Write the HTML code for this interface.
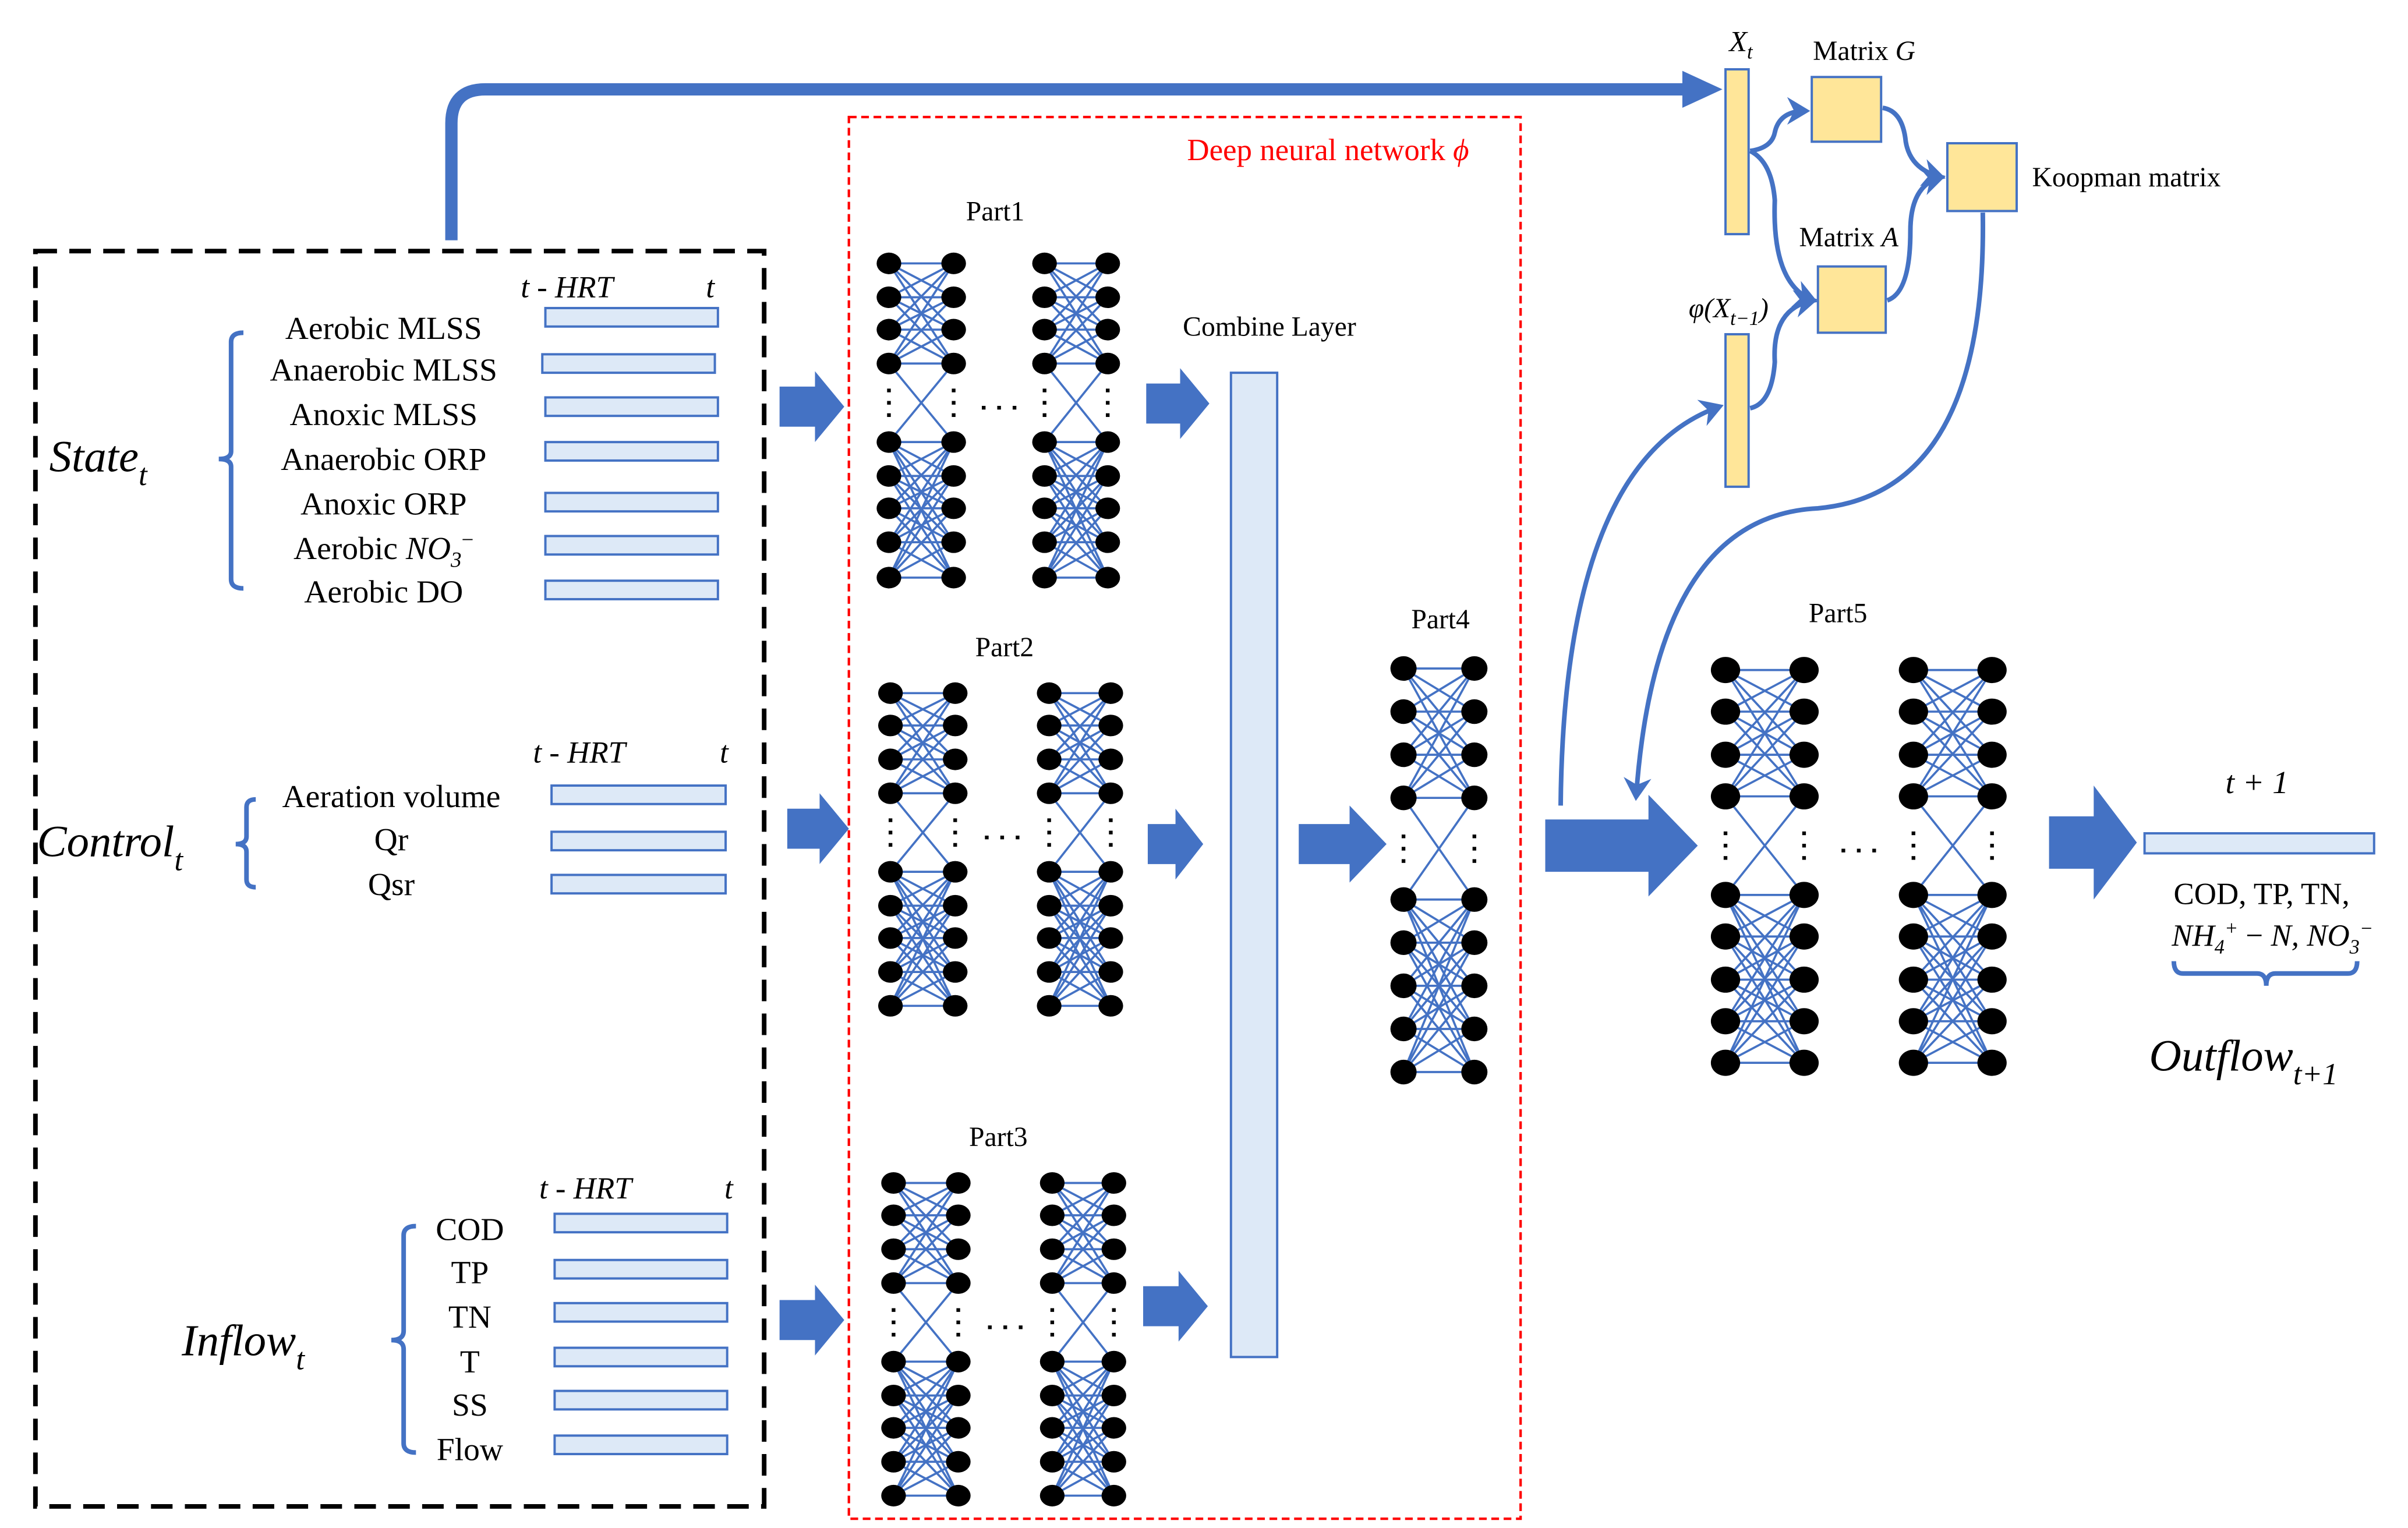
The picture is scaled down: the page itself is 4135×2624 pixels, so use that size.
<!DOCTYPE html>
<html><head><meta charset="utf-8"><style>
html,body{margin:0;padding:0;background:#fff;}
svg{display:block;}
text{font-family:"Liberation Serif",serif;fill:#000;}
.it{font-style:italic;}
</style></head><body>
<svg id="s" xmlns="http://www.w3.org/2000/svg" width="4135" height="2624" viewBox="0 0 1563 992" preserveAspectRatio="none">
<defs>
<marker id="ah" markerWidth="6" markerHeight="6" refX="4" refY="3" orient="auto" markerUnits="strokeWidth">
<path d="M0,0 L5,3 L0,6 L1.5,3 z" fill="#4472c4"/></marker>
</defs>
<rect width="1563" height="992" fill="#fff"/>
<!-- boxes -->
<rect x="23" y="163" width="473" height="815" fill="none" stroke="#000" stroke-width="3" stroke-dasharray="14,8"/>
<rect x="551" y="76" width="436" height="910" fill="none" stroke="#ff0000" stroke-width="1.6" stroke-dasharray="5,3"/>
<text x="862" y="104" font-size="20" fill="#ff0000" text-anchor="middle" style="fill:#ff0000">Deep neural network <tspan class="it">ϕ</tspan></text>
<!-- top arrow -->
<path d="M293,156 L293,80 Q293,58 315,58 L1095,58" fill="none" stroke="#4472c4" stroke-width="8"/>
<path d="M1092,46 L1118,58 L1092,70 z" fill="#4472c4"/>
<g id="bars" fill="#dde9f7" stroke="#4472c4" stroke-width="1.5"></g>
<g id="nets"></g>
<g id="arr" fill="#4472c4"></g>
<!-- combine layer -->
<rect x="799" y="242" width="30" height="639" fill="#dde9f7" stroke="#4472c4" stroke-width="1.5"/>
<text x="824" y="218" font-size="18" text-anchor="middle">Combine Layer</text>
<text x="646" y="143" font-size="18" text-anchor="middle">Part1</text>
<text x="652" y="426" font-size="18" text-anchor="middle">Part2</text>
<text x="648" y="744" font-size="18" text-anchor="middle">Part3</text>
<text x="935" y="408" font-size="18" text-anchor="middle">Part4</text>
<text x="1193" y="404" font-size="18" text-anchor="middle">Part5</text>
<!-- State -->
<text x="32" y="306" font-size="29" class="it">State<tspan font-size="20" dy="9">t</tspan></text>
<path d="M158,216 Q150,216 150,222 L150,293 Q150,298 142,298 Q150,298 150,303 L150,376 Q150,382 158,382" fill="none" stroke="#4472c4" stroke-width="3"/>
<g font-size="21" text-anchor="middle">
<text x="249" y="220">Aerobic MLSS</text>
<text x="249" y="247">Anaerobic MLSS</text>
<text x="249" y="276">Anoxic MLSS</text>
<text x="249" y="305">Anaerobic ORP</text>
<text x="249" y="334">Anoxic ORP</text>
<text x="249" y="363">Aerobic <tspan class="it">NO</tspan><tspan font-size="14" dy="5" class="it">3</tspan><tspan font-size="14" dy="-13">−</tspan></text>
<text x="249" y="391">Aerobic DO</text>
</g>
<text x="368" y="193" font-size="20" class="it" text-anchor="middle">t - HRT</text>
<text x="461" y="193" font-size="20" class="it" text-anchor="middle">t</text>
<!-- Control -->
<text x="24" y="556" font-size="29" class="it">Control<tspan font-size="20" dy="9">t</tspan></text>
<path d="M166,519 Q160,519 160,524 L160,543 Q160,548 153,548 Q160,548 160,553 L160,571 Q160,576 166,576" fill="none" stroke="#4472c4" stroke-width="3"/>
<g font-size="21" text-anchor="middle">
<text x="254" y="524">Aeration volume</text>
<text x="254" y="552">Qr</text>
<text x="254" y="581">Qsr</text>
</g>
<text x="376" y="495" font-size="20" class="it" text-anchor="middle">t - HRT</text>
<text x="470" y="495" font-size="20" class="it" text-anchor="middle">t</text>
<!-- Inflow -->
<text x="118" y="880" font-size="29" class="it">Inflow<tspan font-size="20" dy="9">t</tspan></text>
<path d="M270,796 Q262,796 262,802 L262,864 Q262,870 254,870 Q262,870 262,876 L262,937 Q262,943 270,943" fill="none" stroke="#4472c4" stroke-width="3"/>
<g font-size="21" text-anchor="middle">
<text x="305" y="805">COD</text>
<text x="305" y="833">TP</text>
<text x="305" y="862">TN</text>
<text x="305" y="891">T</text>
<text x="305" y="919">SS</text>
<text x="305" y="948">Flow</text>
</g>
<text x="380" y="778" font-size="20" class="it" text-anchor="middle">t - HRT</text>
<text x="473" y="778" font-size="20" class="it" text-anchor="middle">t</text>
<!-- Koopman part -->
<g fill="#ffe699" stroke="#4472c4" stroke-width="1.5">
<rect x="1120" y="45" width="15" height="107"/>
<rect x="1120" y="217" width="15" height="99"/>
<rect x="1176" y="50" width="45" height="42"/>
<rect x="1180" y="173" width="44" height="43"/>
<rect x="1264" y="93" width="45" height="44"/>
</g>
<text x="1130" y="33" font-size="19" class="it" text-anchor="middle">X<tspan font-size="13" dy="5">t</tspan></text>
<text x="1210" y="39" font-size="18" text-anchor="middle">Matrix <tspan class="it">G</tspan></text>
<text x="1200" y="160" font-size="18" text-anchor="middle">Matrix <tspan class="it">A</tspan></text>
<text x="1319" y="121" font-size="18">Koopman matrix</text>
<text x="1122" y="206" font-size="18" class="it" text-anchor="middle">φ(X<tspan font-size="13" dy="5">t−1</tspan><tspan dy="-5">)</tspan></text>
<g fill="none" stroke="#4472c4" stroke-width="3">
<path d="M1136,98 Q1150,96 1152,86 Q1155,72 1172,72" marker-end="url(#ah)"/>
<path d="M1136,98 Q1150,105 1152,130 Q1150,185 1177,195" marker-end="url(#ah)"/>
<path d="M1136,265 Q1150,262 1152,235 Q1150,200 1177,195" marker-end="url(#ah)"/>
<path d="M1222,70 Q1235,72 1237,92 Q1240,110 1260,115" marker-end="url(#ah)"/>
<path d="M1225,195 Q1240,190 1240,150 Q1240,120 1260,115" marker-end="url(#ah)"/>
<path d="M1287,138 Q1290,320 1180,330 Q1075,335 1062,517" marker-end="url(#ah)"/>
<path d="M1013,523 Q1015,300 1116,264" marker-end="url(#ah)"/>
</g>
<!-- Output -->
<text x="1465" y="515" font-size="21" class="it" text-anchor="middle">t + 1</text>
<rect x="1392" y="541" width="149" height="13" fill="#dde9f7" stroke="#4472c4" stroke-width="1.5"/>
<text x="1468" y="587" font-size="20" text-anchor="middle">COD, TP, TN,</text>
<text x="1475" y="614" font-size="20" text-anchor="middle" class="it">NH<tspan font-size="13" dy="5">4</tspan><tspan font-size="13" dy="-12">+</tspan><tspan dy="7" font-style="normal"> − </tspan>N, NO<tspan font-size="13" dy="5">3</tspan><tspan font-size="13" dy="-12">−</tspan></text>
<path d="M1411,624 Q1411,632 1417,632 L1465,632 Q1471,632 1471,640 Q1471,632 1477,632 L1524,632 Q1530,632 1530,624" fill="none" stroke="#4472c4" stroke-width="3"/>
<text x="1395" y="695" font-size="29" class="it">Outflow<tspan font-size="20" dy="9">t+1</tspan></text>
</svg>
<script>
var NS="http://www.w3.org/2000/svg";
function el(p,t,a){var e=document.createElementNS(NS,t);for(var k in a)e.setAttribute(k,a[k]);p.appendChild(e);return e;}
var bars=document.getElementById('bars');
[[354,200],[352,230],[354,258],[354,287],[354,320],[354,348],[354,377]].forEach(function(b){el(bars,'rect',{x:b[0],y:b[1],width:112,height:12});});
[[358,510],[358,540],[358,568]].forEach(function(b){el(bars,'rect',{x:b[0],y:b[1],width:113,height:12});});
[[360,788],[360,818],[360,846],[360,875],[360,903],[360,932]].forEach(function(b){el(bars,'rect',{x:b[0],y:b[1],width:112,height:12});});
var nets=document.getElementById('nets');
function pair(xl,xr,top,bot,rx,ry){
  var g=el(nets,'g',{stroke:'#4472c4','stroke-width':1.4});
  function E(a,b,c,d){el(g,'line',{x1:a,y1:b,x2:c,y2:d});}
  top.forEach(function(a){top.forEach(function(b){E(xl,a,xr,b);});});
  bot.forEach(function(a){bot.forEach(function(b){E(xl,a,xr,b);});});
  E(xl,top[top.length-1],xr,bot[0]);E(xl,bot[0],xr,top[top.length-1]);
  top.concat(bot).forEach(function(y){el(nets,'ellipse',{cx:xl,cy:y,rx:rx,ry:ry,fill:'#000'});el(nets,'ellipse',{cx:xr,cy:y,rx:rx,ry:ry,fill:'#000'});});
  var m=(top[top.length-1]+bot[0])/2;
  [xl,xr].forEach(function(x){[-8,0,8].forEach(function(d){el(nets,'rect',{x:x-1.2,y:m+d-1.2,width:2.4,height:2.4,fill:'#000'});});});
  return m;
}
function part(x1,x2,x3,x4,top,bot,rx,ry){
  var m=pair(x1,x2,top,bot,rx,ry);
  if(x3){pair(x3,x4,top,bot,rx,ry);var c=(x2+x3)/2;[-10,0,10].forEach(function(d){el(nets,'rect',{x:c+d-1.2,y:m+2,width:2.4,height:2.4,fill:'#000'});});}
}
part(577,619,678,719,[171,193,214,236],[287,309,330,352,375],8,7);
part(578,620,681,721,[450,471,493,515],[566,588,609,631,653],8,7);
part(580,622,683,723,[768,789,811,833],[884,906,927,949,971],8,7);
part(911,957,null,null,[434,462,490,518],[584,612,640,668,696],8.5,8);
part(1120,1171,1242,1293,[435,462,490,517],[581,608,636,663,690],9.5,8.5);
var arr=document.getElementById('arr');
function ba(x1,x2,cy,h,H,L){el(arr,'path',{d:'M'+x1+','+(cy-h)+' L'+(x2-L)+','+(cy-h)+' L'+(x2-L)+','+(cy-H)+' L'+x2+','+cy+' L'+(x2-L)+','+(cy+H)+' L'+(x2-L)+','+(cy+h)+' L'+x1+','+(cy+h)+' z'});}
ba(506,548,264,13,23,19);
ba(744,785,262,13,23,19);
ba(511,551,538,13,23,19);
ba(745,781,548,13,23,18);
ba(506,548,857,13,23,19);
ba(742,784,848,13,23,19);
ba(843,900,548,13,25,24);
ba(1003,1102,549,17,33,32);
ba(1330,1387,547,17,37,28);
</script>
</body></html>
